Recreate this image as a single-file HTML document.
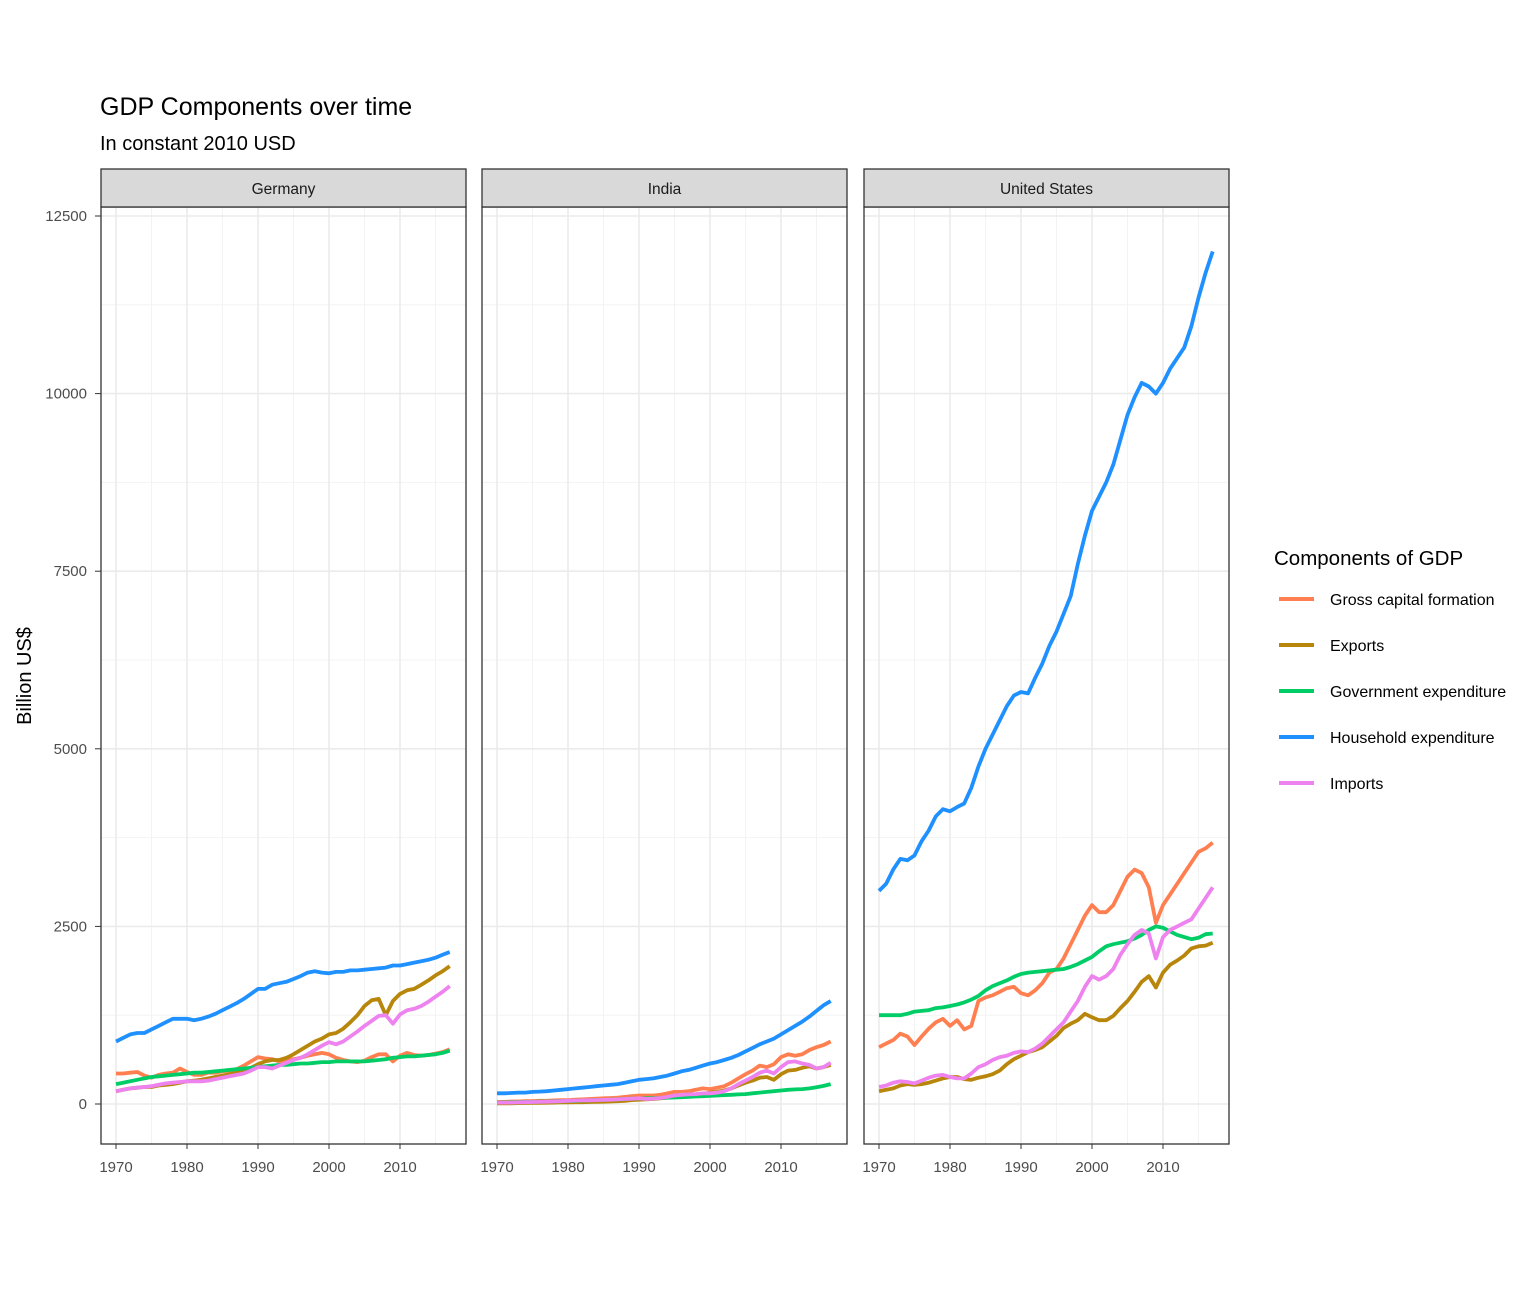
<!DOCTYPE html>
<html><head><meta charset="utf-8"><style>
body{margin:0;background:#fff;font-family:"Liberation Sans",Arial,sans-serif}
svg text{font-family:"Liberation Sans",Arial,sans-serif}
</style></head><body>
<svg id="chart" width="1536" height="1296">
<text x="100" y="115" font-size="25" fill="#000">GDP Components over time</text>
<text x="100" y="150" font-size="20" fill="#000">In constant 2010 USD</text>
<text transform="translate(31,676) rotate(-90)" text-anchor="middle" font-size="20" fill="#000">Billion US$</text>
<g id="panels"></g>
<g id="legend">
<text x="1274" y="565" font-size="20.5" fill="#000">Components of GDP</text>
</g>
</svg>
<script>
const years=[];for(let y=1970;y<=2017;y++)years.push(y);
const seriesNames=["Gross capital formation","Exports","Government expenditure","Household expenditure","Imports"];
const panels=["Germany","India","United States"];
const yTicks=[0,2500,5000,7500,10000,12500];
const xTicks=[1970,1980,1990,2000,2010];
const deGCF=[430,430,440,450,400,370,410,430,440,500,450,410,410,440,440,460,470,490,540,600,660,640,630,600,620,630,650,680,700,720,700,650,620,600,590,610,660,700,700,600,680,720,690,680,690,710,730,770];
const deExp=[180,200,220,230,240,240,260,270,280,300,320,330,340,360,380,400,420,440,470,510,560,600,620,620,650,700,760,820,880,920,980,1000,1060,1150,1250,1380,1460,1480,1250,1450,1550,1600,1620,1680,1740,1810,1870,1940];
const deGov=[280,300,320,340,360,380,390,400,410,420,430,440,440,450,460,470,480,490,500,510,520,530,540,550,550,560,570,570,580,590,590,600,600,600,600,600,610,620,630,650,660,670,670,680,690,700,720,750];
const deHH=[880,930,980,1000,1000,1050,1100,1150,1200,1200,1200,1180,1200,1230,1270,1320,1370,1420,1480,1550,1620,1620,1680,1700,1720,1760,1800,1850,1870,1850,1840,1860,1860,1880,1880,1890,1900,1910,1920,1950,1950,1970,1990,2010,2030,2060,2100,2140];
const deImp=[180,200,220,230,240,250,270,290,300,310,320,320,320,330,350,370,390,410,430,470,520,520,500,540,580,620,650,700,760,820,870,840,880,950,1020,1100,1170,1240,1250,1130,1260,1320,1340,1380,1440,1510,1580,1660];
const inGCF=[30,30,35,35,40,40,45,45,50,55,55,60,65,70,75,80,85,90,100,110,120,120,120,130,150,170,170,180,200,220,210,230,250,300,360,420,470,540,520,560,660,700,680,700,760,800,830,880];
const inExp=[10,10,10,12,14,15,16,18,20,22,24,25,26,28,30,32,35,40,45,55,60,65,70,80,90,100,110,120,130,140,160,170,190,220,260,300,330,370,380,340,420,470,480,510,530,500,520,550];
const inGov=[20,22,24,26,28,30,32,35,38,40,42,45,48,52,55,58,62,66,70,74,78,80,82,85,88,92,96,100,105,110,115,120,125,130,135,140,150,160,170,180,190,200,205,210,220,235,255,280];
const inHH=[150,150,155,160,160,170,175,180,190,200,210,220,230,240,250,260,270,280,300,320,340,350,360,380,400,430,460,480,510,540,570,590,620,650,690,740,790,840,880,920,980,1040,1100,1160,1230,1310,1390,1450];
const inImp=[20,20,20,22,25,28,30,32,35,40,45,48,50,52,55,58,60,65,70,75,80,70,75,85,100,120,130,135,140,150,150,160,180,220,280,330,380,440,470,430,520,590,600,570,550,500,520,580];
const usGCF=[800,850,900,990,950,830,950,1060,1150,1200,1100,1180,1050,1100,1450,1500,1530,1580,1630,1650,1560,1530,1600,1700,1850,1900,2050,2250,2450,2650,2800,2700,2700,2800,3000,3200,3300,3250,3050,2550,2800,2950,3100,3250,3400,3550,3600,3680];
const usExp=[180,200,220,260,280,270,280,300,330,360,380,380,350,340,370,390,420,470,560,630,680,730,760,800,880,960,1070,1130,1180,1270,1220,1180,1180,1240,1350,1450,1580,1720,1800,1640,1850,1960,2020,2090,2190,2220,2230,2270];
const usGov=[1250,1250,1250,1250,1270,1300,1310,1320,1350,1360,1380,1400,1430,1470,1520,1600,1660,1700,1740,1790,1830,1850,1860,1870,1880,1890,1900,1930,1970,2020,2070,2150,2220,2250,2270,2290,2330,2380,2450,2500,2480,2430,2380,2350,2320,2340,2390,2400];
const usHH=[3000,3100,3300,3450,3430,3500,3700,3850,4050,4150,4120,4180,4230,4450,4750,5000,5200,5400,5600,5750,5800,5780,6000,6200,6450,6650,6900,7150,7600,8000,8350,8550,8750,9000,9350,9700,9950,10150,10100,10000,10150,10350,10500,10650,10950,11350,11700,12000];
const usImp=[240,260,300,320,310,290,330,370,400,410,380,360,360,430,520,560,620,660,680,720,740,730,780,850,950,1050,1150,1300,1450,1650,1800,1750,1800,1900,2100,2250,2380,2450,2400,2050,2350,2450,2500,2550,2600,2750,2900,3050];
const panelData=[[deGCF,deExp,deGov,deHH,deImp],[inGCF,inExp,inGov,inHH,inImp],[usGCF,usExp,usGov,usHH,usImp]];
const colors=["#FF7F50","#B8860B","#00CD66","#1E90FF","#EE82EE"];
const NS="http://www.w3.org/2000/svg";
function mk(tag,attrs,parent){const e=document.createElementNS(NS,tag);for(const k in attrs)e.setAttribute(k,attrs[k]);parent.appendChild(e);return e;}
const panelLeft=[101,482,864],pw=365,pTop=207,pBottom=1144;
const yScale=v=>1104-v*(888/12500);
const g=document.getElementById('panels');
panels.forEach((name,pi)=>{
  const L=panelLeft[pi];
  const xScale=yr=>L+15+(yr-1970)*7.1;
  const pg=mk('g',{},g);
  
  
  mk('rect',{x:L,y:pTop,width:pw,height:pBottom-pTop,fill:'#fff'},pg);
  for(let v=1250;v<13000;v+=2500){mk('line',{x1:L,x2:L+pw,y1:yScale(v),y2:yScale(v),stroke:'#F3F3F3','stroke-width':1},pg);}
  for(let yr=1975;yr<=2015;yr+=10){mk('line',{x1:xScale(yr),x2:xScale(yr),y1:pTop,y2:pBottom,stroke:'#F3F3F3','stroke-width':1},pg);}
  yTicks.forEach(v=>{mk('line',{x1:L,x2:L+pw,y1:yScale(v),y2:yScale(v),stroke:'#EBEBEB','stroke-width':1.6},pg);});
  xTicks.forEach(yr=>{mk('line',{x1:xScale(yr),x2:xScale(yr),y1:pTop,y2:pBottom,stroke:'#EBEBEB','stroke-width':1.6},pg);
    mk('line',{x1:xScale(yr),x2:xScale(yr),y1:pBottom,y2:pBottom+5,stroke:'#333','stroke-width':1},pg);
    const t=mk('text',{x:xScale(yr),y:1172,'text-anchor':'middle','font-size':15,fill:'#4D4D4D'},pg);t.textContent=yr;
    
    });
  panelData[pi].forEach((arr,si)=>{
    const d=arr.map((v,i)=>(i?'L':'M')+xScale(years[i]).toFixed(1)+','+yScale(v).toFixed(1)).join('');
    const p=mk('path',{d:d,fill:'none',stroke:colors[si],'stroke-width':3.8,'stroke-linejoin':'round'},pg);
    
    
  });
  mk('rect',{x:L,y:pTop,width:pw,height:pBottom-pTop,fill:'none',stroke:'#333','stroke-width':1.3},pg);
  const s=mk('rect',{x:L,y:169,width:pw,height:38,fill:'#D9D9D9',stroke:'#333','stroke-width':1.3},pg);
  
  
  const st=mk('text',{x:L+pw/2,y:194,'text-anchor':'middle','font-size':15.5,fill:'#1A1A1A'},pg);st.textContent=name;
  
  
});
yTicks.forEach(v=>{
  mk('line',{x1:95,x2:101,y1:yScale(v),y2:yScale(v),stroke:'#333','stroke-width':1},g);
  const t=mk('text',{x:87,y:yScale(v)+5,'text-anchor':'end','font-size':15,fill:'#4D4D4D'},g);t.textContent=v;
  
  
});
const lg=document.getElementById('legend');
seriesNames.forEach((n,i)=>{
  const y=599+i*46;
  const l=mk('line',{x1:1279,x2:1314,y1:y,y2:y,stroke:colors[i],'stroke-width':4},lg);
  
  
  const t=mk('text',{x:1330,y:y+6,'font-size':16,fill:'#000'},lg);t.textContent=n;
  
  
});
</script>
</body></html>
